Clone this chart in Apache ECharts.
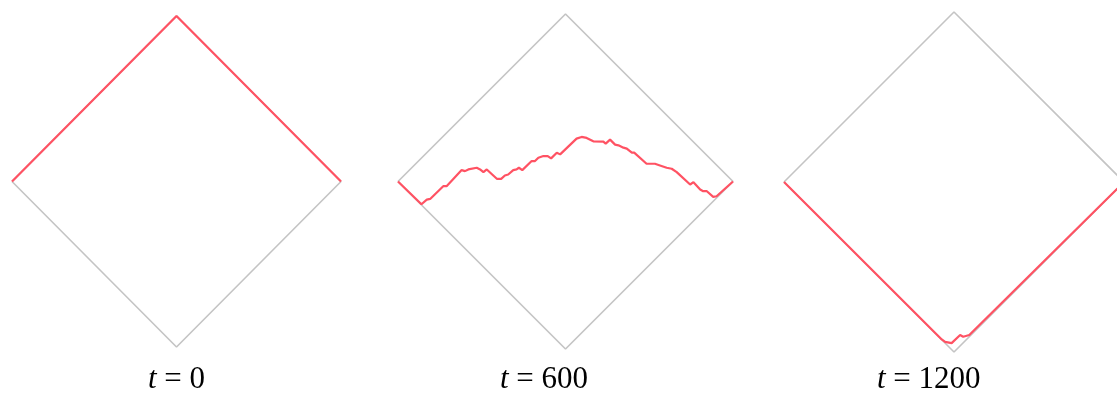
<!DOCTYPE html>
<html>
<head>
<meta charset="utf-8">
<script src="https://cdn.jsdelivr.net/npm/echarts@6/dist/echarts.min.js"></script>
<style>
html,body{margin:0;padding:0;background:#fff;}
#chart{width:1117px;height:394px;}
</style>
</head>
<body>
<div id="chart"></div>
<script>
// Diamond outline (lattice coordinates: x along the row, y height)
const outline = [[0,0],[50,50],[100,0],[50,-50],[0,0]];

// Interface at t = 0
const pathT0 = [[0,0],[50,50],[100,0]];

// Interface at t = 600
const pathT600 = [
  [0,0],[7,-6.8],[8.6,-5.4],[9.6,-5.2],[13.5,-1.4],[14.5,-1.4],[19,3.4],[20,3.1],
  [21,3.6],[23.5,4.1],[24.5,3.6],[25.5,2.8],[26.5,3.6],[29.5,0.8],[30.8,0.8],
  [31.9,1.8],[32.9,2.1],[34.4,3.4],[35.4,3.6],[36.1,4.1],[37.1,3.4],[39.9,6.1],
  [40.9,6.1],[41.9,7.1],[43.4,7.6],[44.7,7.6],[45.7,6.9],[47.4,8.6],[48.4,8.1],
  [53.3,12.8],[54.8,13.3],[56.3,13.0],[58.3,12.0],[61.3,11.9],[62,11.3],[63.3,12.5],
  [64.8,11.0],[65.8,10.8],[67.3,10.1],[68.3,9.8],[69.8,8.6],[70.5,8.6],[74.2,5.3],
  [76.7,5.3],[78.2,4.8],[80.2,4.1],[81.7,3.8],[83.2,2.8],[87.2,-0.9],[88.2,-0.2],
  [90.2,-2.4],[91.1,-2.9],[92.2,-2.9],[94.1,-4.6],[95.1,-4.4],[100,0]
];

// Interface at t = 1200
const pathT1200 = [
  [0,0],[46.4,-46.3],[47.4,-47.0],[49.3,-47.4],[51.8,-45.0],[52.7,-45.5],[54.5,-45.0],[100,0]
];

const panels = [pathT0, pathT600, pathT1200];
const labelTimes = ['0', '600', '1200'];

// layout of each panel (pixels); the third panel runs past the right edge
const grids = [
  {left: 12,  top: 16, width: 329, height: 331},
  {left: 398, top: 14, width: 335, height: 335},
  {left: 784, top: 12, width: 333, height: 340}
];
// visible x range of each panel (third one is cut by the page edge)
const xMax = [100, 100, 100 * 333 / 340];
const labelLeft = [148, 500, 877];

const option = {
  backgroundColor: '#ffffff',
  animation: false,
  grid: grids.map(g => ({left: g.left, top: g.top, width: g.width, height: g.height, containLabel: false})),
  xAxis: grids.map((g, i) => ({type: 'value', gridIndex: i, min: 0, max: xMax[i], show: false})),
  yAxis: grids.map((g, i) => ({type: 'value', gridIndex: i, min: -50, max: 50, show: false})),
  series: [],
  graphic: labelTimes.map((t, i) => ({
    type: 'text',
    left: labelLeft[i],
    top: 364,
    style: {
      text: '{it|t} {n|=} {n|' + t + '}',
      rich: {
        it: {fontFamily: 'Liberation Serif', fontStyle: 'italic', fontSize: 31, fill: '#000'},
        n: {fontFamily: 'Liberation Serif', fontSize: 31, fill: '#000'}
      },
      font: '31px "Liberation Serif"',
      fill: '#000'
    }
  }))
};

panels.forEach((p, i) => {
  option.series.push({
    type: 'line', xAxisIndex: i, yAxisIndex: i, data: outline,
    showSymbol: false, symbol: 'none', silent: true, z: 1, clip: false,
    lineStyle: {color: '#c4c4c4', width: 1.6}
  });
  option.series.push({
    type: 'line', xAxisIndex: i, yAxisIndex: i, data: p,
    showSymbol: false, symbol: 'none', silent: true, z: 2, clip: false,
    lineStyle: {color: '#ff5263', width: 2.2}
  });
});

const chart = echarts.init(document.getElementById('chart'), null, {renderer: 'canvas'});
chart.setOption(option);
</script>
</body>
</html>
